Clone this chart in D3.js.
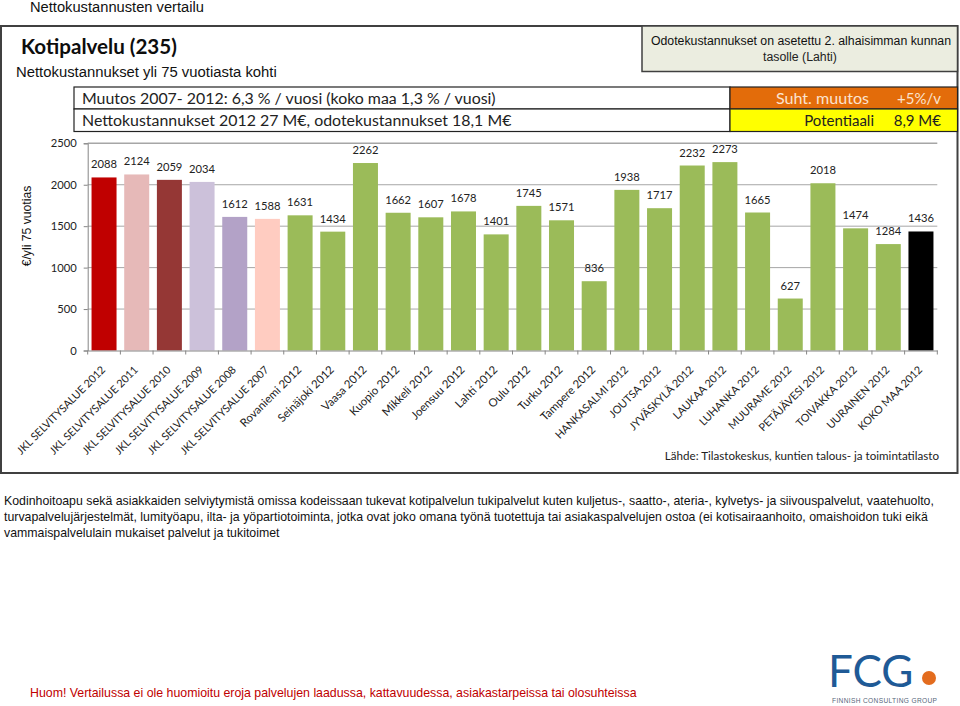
<!DOCTYPE html>
<html><head><meta charset="utf-8">
<script src="https://cdn.jsdelivr.net/npm/d3@7"></script>
<style>
html,body{margin:0;padding:0;background:#fff}
svg{display:block}
.ar{font-family:"Liberation Sans",Arial,sans-serif}
.ca{font-family:Lato,"Open Sans",sans-serif}
</style></head><body><svg id="c" width="960" height="706"></svg>
<script>
const categories=["JKL SELVITYSALUE 2012","JKL SELVITYSALUE 2011","JKL SELVITYSALUE 2010","JKL SELVITYSALUE 2009","JKL SELVITYSALUE 2008","JKL SELVITYSALUE 2007","Rovaniemi 2012","Seinäjoki 2012","Vaasa 2012","Kuopio 2012","Mikkeli 2012","Joensuu 2012","Lahti 2012","Oulu 2012","Turku 2012","Tampere 2012","HANKASALMI 2012","JOUTSA 2012","JYVÄSKYLÄ 2012","LAUKAA 2012","LUHANKA 2012","MUURAME 2012","PETÄJÄVESI 2012","TOIVAKKA 2012","UURAINEN 2012","KOKO MAA 2012"];
const values=[2088,2124,2059,2034,1612,1588,1631,1434,2262,1662,1607,1678,1401,1745,1571,836,1938,1717,2232,2273,1665,627,2018,1474,1284,1436];
const barColors=["#C00000","#E6B9B8","#953735","#CCC1DA","#B3A2C7","#FFCCC1"];
const defaultColor="#9BBB59", lastColor="#000000";
const yTicks=[0,500,1000,1500,2000,2500];
const bodyLines=["Kodinhoitoapu sekä asiakkaiden selviytymistä omissa kodeissaan tukevat kotipalvelun tukipalvelut kuten kuljetus-, saatto-, ateria-, kylvetys- ja siivouspalvelut, vaatehuolto,","turvapalvelujärjestelmät, lumityöapu, ilta- ja yöpartiotoiminta, jotka ovat joko omana työnä tuotettuja tai asiakaspalvelujen ostoa (ei kotisairaanhoito, omaishoidon tuki eikä","vammaispalvelulain mukaiset palvelut ja tukitoimet"];

const svg=d3.select("#c");
const txt=(x,y,s,cls,size,o={})=>svg.append("text").attr("x",x).attr("y",y).attr("class",cls)
  .attr("font-size",size).attr("fill",o.fill||"#111").attr("text-anchor",o.anchor||"start")
  .attr("font-weight",o.weight||"normal").text(s);
const box=(x,y,w,h,fill,stroke,sw)=>svg.append("rect").attr("x",x).attr("y",y).attr("width",w).attr("height",h)
  .attr("fill",fill).attr("stroke",stroke).attr("stroke-width",sw);

txt(30,11.5,"Nettokustannusten vertailu","ar",14.7);
box(1,26,956.5,447,"#fff","#404040",2);
box(642,26,315.5,45.5,"#EBEDE0","#404040",1.5);
txt(801,45,"Odotekustannukset on asetettu 2. alhaisimman kunnan","ar",12.3,{anchor:"middle"});
txt(800,61,"tasolle (Lahti)","ar",12.3,{anchor:"middle",fill:"#222"});
txt(21,54,"Kotipalvelu (235)","ca",20.6,{weight:"bold",fill:"#0d0d0d"});
txt(16,77,"Nettokustannukset yli 75 vuotiasta kohti","ar",14.85);

box(74,87,656,22,"#fff","#222",1.2);
box(74,109,656,22.5,"#fff","#222",1.2);
box(730,87,227.5,22,"#E36C0A","#222",1.2);
box(730,109,227.5,22.5,"#FFFF00","#222",1.2);
txt(82,104,"Muutos 2007- 2012: 6,3 % / vuosi (koko maa 1,3 % / vuosi)","ca",15.9,{fill:"#222"});
txt(82,126,"Nettokustannukset 2012 27 M€, odotekustannukset 18,1 M€","ca",15.9,{fill:"#222"});
txt(869,104,"Suht. muutos","ca",16.1,{anchor:"end",fill:"#FBE3CF"});
txt(941,104,"+5%/v","ca",15,{anchor:"end",fill:"#FBE3CF"});
txt(874,126,"Potentiaali","ca",15,{anchor:"end",fill:"#222"});
txt(941,126,"8,9 M€","ca",15,{anchor:"end",fill:"#222"});

const x=d3.scaleBand().domain(categories).range([87.7,937.3]).paddingInner(0.235).paddingOuter(0.1175);
const y=d3.scaleLinear().domain([0,2500]).range([350.5,143.3]);

svg.append("g").selectAll("line").data(yTicks.slice(1)).join("line")
  .attr("x1",87.7).attr("x2",937.3).attr("y1",y).attr("y2",y).attr("stroke","#A6A6A6").attr("stroke-width",d=>d===2500?1.5:1);
const gy=svg.append("g").attr("transform","translate(87.7,0)").call(d3.axisLeft(y).tickValues(yTicks).tickSize(4).tickFormat(d3.format("d")));
gy.selectAll("path,line").attr("stroke","#868686");
gy.selectAll("text").attr("class","ca").attr("font-size",11.2).attr("fill","#222").attr("x",-11).attr("font-family",null);

svg.append("g").selectAll("rect").data(values).join("rect")
  .attr("x",(d,i)=>x(categories[i])).attr("width",x.bandwidth())
  .attr("y",d=>y(d)).attr("height",d=>y(0)-y(d))
  .attr("fill",(d,i)=>i===values.length-1?lastColor:(barColors[i]||defaultColor));

svg.append("g").selectAll("text").data(values).join("text")
  .attr("class","ca").attr("font-size",11.2).attr("fill","#222").attr("text-anchor","middle")
  .attr("x",(d,i)=>x(categories[i])+x.bandwidth()/2).attr("y",d=>y(d)-9).text(d=>d);

const gx=svg.append("g").attr("transform","translate(0,350.5)").call(d3.axisBottom(x).tickSize(0).tickPadding(0));
gx.select("path").attr("stroke","#868686");
gx.selectAll("text").attr("class","ca").attr("fill","#222").attr("font-family",null)
  .attr("font-size",d=>d===d.toUpperCase()?10.8:11.4)
  .attr("text-anchor","end").attr("dy",null).attr("y",0)
  .attr("transform","translate(2,20) rotate(-45)");
svg.append("g").selectAll("line").data(d3.range(27)).join("line")
  .attr("x1",i=>87.7+i*(849.6/26)).attr("x2",i=>87.7+i*(849.6/26)).attr("y1",350.5).attr("y2",354.5).attr("stroke","#868686");

svg.append("text").attr("transform","translate(31,226) rotate(-90)").attr("class","ar").attr("font-size",12.2)
  .attr("text-anchor","middle").attr("fill","#111").text("€/yli 75 vuotias");
txt(939,460,"Lähde: Tilastokeskus, kuntien talous- ja toimintatilasto","ca",11.6,{anchor:"end",fill:"#222"});

bodyLines.forEach((s,i)=>txt(4,505+i*16,s,"ar",12.34));
txt(30,697,"Huom! Vertailussa ei ole huomioitu eroja palvelujen laadussa, kattavuudessa, asiakastarpeissa tai olosuhteissa","ar",12.35,{fill:"#C00000"});

txt(828,687,"FCG","ca",44,{fill:"#1F5A96"});
svg.append("circle").attr("cx",929).attr("cy",678).attr("r",7).attr("fill","#E36C1E");
txt(832,702.5,"FINNISH CONSULTING GROUP","ar",6.6,{fill:"#55667a"}).attr("letter-spacing",0.35);
</script></body></html>
